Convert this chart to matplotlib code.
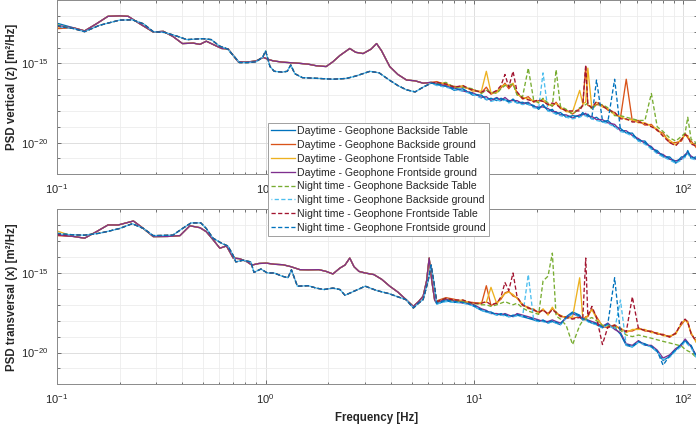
import numpy as np
import matplotlib
matplotlib.use("Agg")
import matplotlib.pyplot as plt
from matplotlib.ticker import LogLocator, FixedLocator, NullFormatter, LogFormatterSciNotation

plt.rcParams['font.family'] = ['Liberation Sans', 'DejaVu Sans']
plt.rcParams['mathtext.default'] = 'regular'

# ---------------- data (log10 of PSD in m^2/Hz) ----------------
labels = ["Daytime - Geophone Backside Table", "Daytime - Geophone Backside ground",
          "Daytime - Geophone Frontside Table", "Daytime - Geophone Frontside ground",
          "Night time - Geophone Backside Table", "Night time - Geophone Backside ground",
          "Night time - Geophone Frontside Table", "Night time - Geophone Frontside ground"]
colors = ["#0072BD", "#D95319", "#EDB120", "#7E2F8E", "#77AC30", "#4DBEEE", "#A2142F", "#0072BD"]

# shared high-frequency grid (Hz)
hf_f = [6.6, 7.3, 8.0, 8.8, 9.8, 10.8, 11.4, 12.0, 12.8, 13.4, 14.0, 14.6, 15.3, 16.0, 17.0,
        18.1, 19.2, 20.3, 21.3, 22.5, 23.6, 24.6, 25.8, 27.5, 29.5, 31.9, 33.0, 34.1, 34.9,
        36.5, 38.4, 41.0, 43.5, 46.9, 50.0, 53.3, 57.0, 61.0, 65.5, 70.3, 75.0, 80.0, 86.0,
        92.0, 98.0, 102.0, 105.0, 109.0, 115.0]

# ---- vertical (z) ----
z_day_low_f = [0.10, 0.12, 0.136, 0.155, 0.176, 0.20, 0.22, 0.25, 0.29, 0.324, 0.36, 0.40, 0.45,
               0.485, 0.52, 0.57, 0.617, 0.66, 0.70, 0.74, 0.81, 0.90, 0.975, 1.03, 1.087, 1.2,
               1.46, 1.6, 1.75, 1.95, 2.1, 2.27, 2.53, 2.7, 2.93, 3.2, 3.4, 3.59, 3.93, 4.3,
               4.73, 5.2, 5.68, 6.2]
z_day_low_v = [-12.6, -12.75, -12.95, -12.5, -12.03, -12.0, -12.03, -12.5, -13.02, -12.98, -13.3,
               -13.75, -13.72, -13.8, -13.6, -13.85, -14.06, -14.08, -14.5, -14.9, -14.92, -14.85,
               -14.62, -14.75, -14.84, -14.92, -15.0, -15.05, -15.15, -15.2, -14.9, -14.5, -14.06,
               -14.3, -14.38, -14.1, -13.75, -14.2, -15.2, -15.7, -16.05, -16.1, -16.25, -16.2]
z_day_start = [-12.46, -12.81, -12.7, -12.6]
z_night_low_f = [0.10, 0.12, 0.136, 0.16, 0.20, 0.23, 0.26, 0.29, 0.33, 0.38, 0.42, 0.50, 0.55,
                 0.60, 0.66, 0.70, 0.75, 0.82, 0.90, 0.97, 1.0, 1.05, 1.1, 1.2, 1.27, 1.32, 1.38,
                 1.5, 1.8, 2.1, 2.44, 2.7, 3.16, 3.5, 3.9, 4.3, 4.73, 5.2, 5.68, 6.2]
z_night_low_v = [-12.6, -12.8, -13.0, -12.6, -12.27, -12.25, -12.5, -13.0, -13.05, -13.3, -13.5,
                 -13.44, -13.5, -13.9, -14.1, -14.5, -14.95, -14.95, -14.9, -14.6, -14.21, -15.2,
                 -15.5, -15.55, -15.5, -15.1, -15.65, -15.9, -15.95, -16.0, -15.95, -15.8, -15.5,
                 -15.6, -16.04, -16.4, -16.67, -16.8, -16.5, -16.25]
z_night_start = [-12.55, -12.7, -12.65, -12.6]
z_hf = [
    [-16.35, -16.4, -16.7, -16.6, -17.0, -17.0, -17.3, -17.2, -17.35, -17.2, -17.3, -17.45, -17.25, -17.5,
     -17.45, -17.6, -17.65, -17.9, -17.6, -18.0, -17.9, -18.2, -18.1, -18.4, -18.3, -18.35, -18.1, -18.3,
     -18.2, -18.5, -18.4, -18.7, -18.6, -19.0, -19.1, -19.4, -19.4, -19.9, -19.9, -20.4, -20.5, -20.9,
     -20.9, -21.3, -20.9, -20.9, -20.5, -21.0, -20.9],
    [-16.15, -16.35, -16.45, -16.5, -16.65, -16.85, -16.5, -16.95, -16.75, -16.55, -16.25, -16.6, -16.3,
     -16.85, -17.25, -17.1, -17.45, -17.35, -17.4, -17.55, -17.7, -17.45, -17.85, -17.95, -18.2, -17.85,
     -17.7, -15.2, -17.65, -17.75, -17.6, -17.65, -17.95, -18.1, -18.45, -16.0, -18.65, -18.6, -18.9,
     -18.85, -19.25, -19.4, -20.0, -20.0, -19.9, -19.4, -19.7, -19.9, -20.3],
    [-16.25, -16.25, -16.55, -16.4, -16.75, -16.75, -15.5, -16.85, -16.85, -16.45, -16.35, -16.45, -16.25,
     -16.95, -17.15, -17.25, -17.35, -17.45, -17.25, -17.65, -17.55, -17.55, -17.75, -18.05, -18.05,
     -16.7, -17.55, -17.45, -15.3, -17.85, -17.45, -17.75, -17.85, -18.25, -18.35, -18.55, -18.55, -18.75,
     -18.75, -18.95, -19.15, -19.55, -19.85, -20.15, -19.75, -19.55, -19.55, -20.05, -20.15],
    [-16.25, -16.45, -16.55, -16.75, -16.85, -17.15, -17.1, -17.35, -17.15, -17.35, -17.15, -17.35, -17.35,
     -17.35, -17.55, -17.45, -17.75, -17.75, -17.75, -17.85, -18.05, -18.05, -18.25, -18.25, -18.45,
     -18.25, -18.25, -18.15, -18.35, -18.35, -18.55, -18.55, -18.75, -18.85, -19.25, -19.25, -19.55,
     -19.75, -20.05, -20.25, -20.65, -20.75, -21.05, -21.15, -21.05, -20.75, -20.65, -20.85, -21.05],
    [-16.3, -16.2, -16.5, -16.5, -16.6, -16.9, -16.7, -16.8, -16.9, -16.6, -16.4, -16.4, -16.3, -17.0,
     -17.1, -15.3, -17.3, -17.5, -17.2, -17.5, -17.7, -15.4, -17.7, -17.9, -18.2, -17.8, -17.7, -17.6,
     -17.5, -17.9, -17.6, -17.6, -17.8, -18.3, -18.3, -18.4, -18.5, -18.6, -18.6, -16.9, -19.0, -19.3,
     -19.7, -19.9, -19.6, -19.4, -18.4, -19.8, -20.0],
    [-16.4, -16.5, -16.65, -16.75, -16.95, -17.2, -17.25, -17.4, -17.3, -17.4, -17.3, -17.5, -17.4, -17.5,
     -17.6, -17.55, -17.8, -17.85, -15.6, -18.0, -18.1, -18.2, -18.3, -18.4, -18.5, -18.4, -18.3, -18.3,
     -18.4, -18.5, -18.6, -18.7, -18.8, -19.0, -19.3, -19.4, -19.6, -19.9, -20.1, -20.4, -20.7, -20.9,
     -21.1, -21.3, -21.1, -20.9, -20.7, -21.0, -21.1],
    [-16.2, -16.3, -16.5, -16.4, -16.7, -16.8, -16.7, -16.9, -16.7, -16.4, -15.7, -16.5, -15.5, -16.8,
     -17.2, -17.3, -17.4, -17.3, -17.4, -17.6, -17.5, -17.6, -17.8, -18.0, -18.0, -18.0, -17.6, -15.1,
     -17.6, -17.8, -17.4, -17.7, -17.9, -18.1, -18.5, -18.5, -18.7, -18.7, -18.8, -19.0, -19.2, -19.6,
     -20.0, -20.2, -19.8, -19.5, -19.6, -20.1, -20.2],
    [-16.3, -16.45, -16.6, -16.65, -16.9, -17.05, -17.2, -17.25, -17.2, -17.3, -17.25, -17.4, -17.3, -17.45,
     -17.5, -17.5, -17.7, -17.8, -17.7, -17.9, -18.0, -18.1, -18.2, -18.3, -18.4, -18.3, -18.2, -18.2,
     -18.3, -18.4, -16.05, -18.6, -18.7, -16.0, -19.2, -19.3, -19.5, -19.8, -20.0, -20.3, -20.6, -20.8,
     -21.0, -21.2, -21.0, -20.8, -20.6, -20.9, -21.0],
]

# ---- transversal (x) ----
x_day_low_f = [0.10, 0.12, 0.136, 0.155, 0.176, 0.197, 0.233, 0.26, 0.29, 0.34, 0.389, 0.434, 0.485,
               0.52, 0.56, 0.604, 0.65, 0.70, 0.75, 0.81, 0.86, 0.93, 1.01, 1.1, 1.21, 1.32, 1.46,
               1.6, 1.8, 1.95, 2.1, 2.27, 2.4, 2.53, 2.65, 2.8, 3.0, 3.3, 3.6, 3.93, 4.3, 4.7, 5.1,
               5.4, 5.68, 5.9, 6.07, 6.25, 6.45]
x_day_low_v = [-12.5, -12.7, -12.81, -12.4, -11.98, -11.98, -11.73, -12.2, -12.71, -12.7, -12.65,
               -12.03, -12.15, -12.4, -12.9, -13.44, -13.3, -14.06, -14.1, -14.27, -14.5, -14.4,
               -14.38, -14.45, -14.48, -14.6, -14.79, -14.8, -14.79, -14.9, -15.06, -14.69, -14.5,
               -14.06, -14.6, -14.9, -15.0, -15.1, -15.4, -15.83, -16.2, -16.67, -17.1, -16.8,
               -16.46, -15.5, -14.06, -15.5, -16.7]
x_day_start = [-12.6, -12.65, -12.35, -12.6]
x_night_low_f = [0.10, 0.12, 0.136, 0.16, 0.18, 0.20, 0.23, 0.26, 0.29, 0.36, 0.40, 0.44, 0.49, 0.52,
                 0.56, 0.62, 0.66, 0.70, 0.72, 0.78, 0.85, 0.88, 0.95, 1.02, 1.1, 1.2, 1.28, 1.33,
                 1.42, 1.6, 1.75, 1.9, 2.1, 2.27, 2.4, 2.7, 3.0, 3.4, 3.9, 4.3, 4.7, 5.1, 5.4, 5.68,
                 6.0, 6.2, 6.4]
x_night_low_v = [-12.5, -12.6, -12.62, -12.5, -12.35, -12.2, -11.9, -12.2, -12.65, -12.62, -12.2,
                 -11.85, -11.85, -12.2, -12.81, -13.15, -13.3, -13.9, -14.3, -14.2, -14.3, -14.96,
                 -14.75, -15.0, -15.0, -15.2, -15.3, -14.8, -15.83, -15.8, -15.95, -16.04, -15.95,
                 -16.04, -16.4, -16.1, -15.83, -16.1, -16.3, -16.5, -16.67, -17.2, -16.9, -16.67,
                 -15.5, -14.5, -15.6]
x_night_start = [-12.5, -12.55, -12.6, -12.5]
x_hf = [
    [-16.95, -16.75, -16.85, -16.8, -17.05, -17.35, -17.45, -17.45, -17.65, -17.55, -17.65, -17.75, -17.65,
     -17.65, -17.75, -17.85, -17.95, -18.05, -17.95, -18.15, -18.05, -18.15, -18.25, -17.75, -17.45,
     -17.65, -17.95, -17.85, -18.05, -18.15, -18.25, -18.45, -18.25, -18.45, -18.85, -19.55, -19.65,
     -19.35, -19.45, -19.65, -19.95, -20.5, -20.25, -19.85, -19.45, -19.25, -19.45, -19.55, -20.25],
    [-16.75, -16.55, -16.65, -16.8, -16.85, -16.95, -15.8, -17.05, -16.85, -16.65, -16.25, -16.15, -16.45,
     -16.55, -17.05, -17.15, -17.35, -17.45, -17.35, -17.55, -17.25, -17.45, -17.75, -17.75, -17.85,
     -17.75, -17.95, -17.75, -17.75, -17.25, -17.75, -18.35, -18.45, -18.25, -18.55, -18.65, -18.65,
     -18.45, -18.65, -18.65, -18.85, -18.85, -19.05, -18.75, -18.25, -17.95, -18.05, -18.85, -19.25],
    [-16.85, -16.65, -16.75, -16.7, -16.95, -16.85, -16.85, -15.9, -16.95, -16.55, -16.3, -16.2, -16.35,
     -16.6, -16.95, -17.25, -17.25, -17.55, -17.25, -17.65, -17.15, -17.55, -17.65, -17.85, -17.75, -15.3,
     -17.85, -17.85, -17.65, -17.3, -17.85, -18.3, -18.35, -18.35, -18.45, -18.75, -18.55, -18.55, -18.55,
     -18.75, -18.75, -18.95, -18.95, -18.85, -18.15, -17.95, -18.15, -18.75, -19.35],
    [-16.85, -16.65, -16.75, -16.9, -16.95, -17.25, -17.35, -17.55, -17.55, -17.65, -17.55, -17.65, -17.75,
     -17.55, -17.65, -17.75, -17.85, -17.95, -18.05, -18.05, -17.95, -18.05, -18.15, -17.85, -17.55,
     -17.75, -17.85, -17.95, -17.95, -18.05, -18.15, -18.35, -18.15, -18.55, -18.75, -19.45, -19.55,
     -19.25, -19.55, -19.55, -19.85, -20.35, -20.15, -19.75, -19.55, -19.15, -19.35, -19.65, -20.15],
    [-16.8, -16.6, -16.75, -16.8, -16.9, -17.0, -17.0, -17.1, -17.0, -16.9, -16.8, -16.9, -17.0, -16.9,
     -17.2, -17.4, -17.5, -17.6, -15.5, -15.2, -13.75, -17.7, -17.9, -18.3, -19.5, -18.3, -18.0, -17.9,
     -17.9, -17.8, -18.0, -18.3, -18.3, -18.4, -18.6, -18.9, -19.0, -18.9, -19.0, -19.1, -19.2, -19.3,
     -19.4, -19.5, -19.6, -19.8, -19.9, -20.0, -20.3],
    [-16.95, -16.8, -16.85, -16.9, -17.05, -17.35, -17.45, -17.55, -17.65, -17.65, -17.7, -17.75, -17.75,
     -17.7, -17.75, -15.1, -17.95, -18.05, -18.05, -18.15, -18.05, -18.15, -18.25, -17.85, -17.55, -17.75,
     -17.95, -17.95, -18.05, -18.15, -18.25, -18.45, -18.25, -18.55, -16.7, -19.55, -19.65, -19.35,
     -19.55, -19.65, -19.95, -20.45, -20.3, -19.9, -19.6, -19.3, -19.5, -19.7, -20.3],
    [-16.8, -16.6, -16.7, -16.7, -16.9, -16.9, -16.8, -17.0, -16.9, -16.5, -15.6, -16.1, -15.0, -16.5,
     -17.0, -17.2, -17.3, -17.5, -17.3, -17.6, -17.3, -17.5, -17.7, -17.8, -17.9, -17.8, -17.9, -14.06,
     -17.7, -17.1, -17.8, -19.5, -18.4, -18.3, -18.5, -18.7, -16.5, -18.5, -18.6, -18.7, -18.8, -18.9,
     -19.0, -18.8, -18.1, -17.9, -18.1, -18.8, -19.3],
    [-16.9, -16.7, -16.8, -16.85, -17.0, -17.3, -17.4, -17.5, -17.6, -17.6, -17.6, -17.7, -17.7, -17.6,
     -17.7, -17.8, -17.9, -18.0, -18.0, -18.1, -18.0, -18.1, -18.2, -17.8, -17.5, -17.7, -17.9, -17.9,
     -18.0, -18.1, -18.2, -18.4, -18.2, -15.3, -18.8, -19.5, -19.6, -19.3, -19.5, -19.6, -19.9, -20.8,
     -20.2, -19.8, -19.5, -19.2, -19.4, -19.6, -20.2],
]

ylabels = ["PSD vertical (z) [m\u00b2/Hz]", "PSD transversal (x) [m\u00b2/Hz]"]
xlabel = "Frequency [Hz]"

# ---------------- figure ----------------
W, H = 696, 430
fig = plt.figure(figsize=(W / 100, H / 100), dpi=100)
left = 56.7 / W
ax1 = fig.add_axes([left, 1 - 174.3 / H, 1 - left, 174.3 / H])
ax2 = fig.add_axes([left, 1 - 384.3 / H, 1 - left, (384.3 - 209.4) / H])

# dash styles: light-blue series offset so that it shows in the gaps of the blue one
dash_styles = [(0, (3.2, 1.8)), (2.6, (3.2, 1.8)), (0, (3.2, 1.8)), (0, (3.2, 1.8))]


def build(low_f, low_v, start, hf_vals):
    f = list(low_f) + list(hf_f)
    v = [start] + list(low_v[1:]) + list(hf_vals)
    return np.array(f), 10.0 ** np.array(v)


panels = [
    (ax1, z_day_low_f, z_day_low_v, z_day_start, z_night_low_f, z_night_low_v, z_night_start, z_hf),
    (ax2, x_day_low_f, x_day_low_v, x_day_start, x_night_low_f, x_night_low_v, x_night_start, x_hf),
]

handles = []
for pi, (ax, dlf, dlv, dst, nlf, nlv, nst, hf) in enumerate(panels):
    for i in range(8):
        if i < 4:
            f, p = build(dlf, dlv, dst[i], hf[i])
            ls = '-'
        else:
            f, p = build(nlf, nlv, nst[i - 4], hf[i])
            ls = dash_styles[i - 4]
        ln, = ax.plot(f, p, color=colors[i], lw=0.95, linestyle=ls, label=labels[i])
        if pi == 0:
            handles.append(ln)

    ax.set_xscale('log')
    ax.set_yscale('log')
    ax.set_xlim(0.1, 115)
    ax.set_ylim(1e-22, 1e-11)
    ax.yaxis.set_major_locator(FixedLocator([1e-20, 1e-15]))
    ax.yaxis.set_major_formatter(LogFormatterSciNotation())
    ax.yaxis.set_minor_locator(LogLocator(base=10, subs=(1.0,), numticks=30))
    ax.yaxis.set_minor_formatter(NullFormatter())
    ax.xaxis.set_major_locator(LogLocator(base=10, numticks=10))
    ax.xaxis.set_minor_locator(LogLocator(base=10, subs=np.arange(2, 10), numticks=20))
    ax.xaxis.set_minor_formatter(NullFormatter())
    ax.grid(True, which='major', color='#d9d9d9', lw=0.6)
    ax.grid(True, which='minor', color='#ececec', lw=0.6)
    ax.set_axisbelow(True)
    ax.tick_params(which='both', direction='in', top=True, right=True, labelsize=8,
                   colors='#404040', labelcolor='#262626', width=0.5)
    ax.tick_params(which='major', length=3, pad=6)
    ax.tick_params(which='minor', length=1.8)
    for s in ax.spines.values():
        s.set_color('#8a8a8a')
        s.set_linewidth(0.7)
    ax.set_ylabel(ylabels[pi], fontsize=8.3, fontweight='bold', color='#262626')
    ax.yaxis.set_label_coords(-0.061, 0.5)

ax2.set_xlabel(xlabel, fontsize=8.3, fontweight='bold', color='#262626')

leg = fig.legend(handles, labels, loc='upper left', bbox_to_anchor=(268 / W, 1 - 123 / H),
                 borderaxespad=0, fontsize=7.6, frameon=True, fancybox=False, framealpha=1.0,
                 handlelength=2.3, handletextpad=0.15, labelspacing=0.36, borderpad=0.3)
leg.set_zorder(10)
leg.get_frame().set_edgecolor('#a0a0a0')
leg.get_frame().set_linewidth(0.7)
for t in leg.get_texts():
    t.set_color('#262626')

fig.savefig('out.png', dpi=100)
